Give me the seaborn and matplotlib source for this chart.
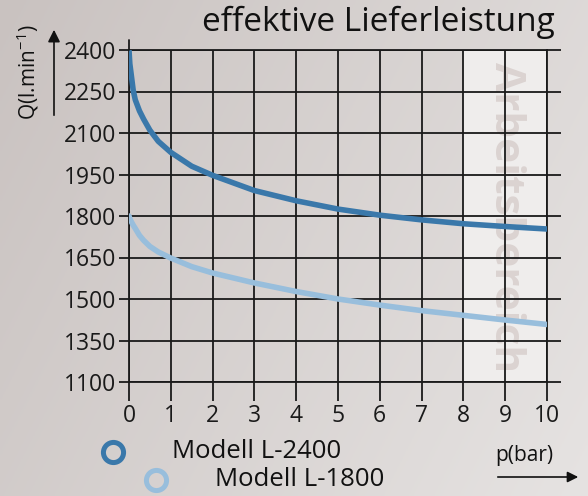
import numpy as np
import pandas as pd
import seaborn as sns
import matplotlib.pyplot as plt
from matplotlib.patches import FancyArrowPatch

# data
p_bar = [0, 0.02, 0.05, 0.1, 0.15, 0.25, 0.35, 0.5, 0.7, 1, 1.5, 2, 3, 4, 5, 6, 7, 8, 9, 10]
flow_2400 = [2400, 2350, 2315, 2255, 2220, 2180, 2150, 2110, 2070, 2030, 1980, 1947, 1892,
             1855, 1825, 1803, 1786, 1772, 1762, 1753]
flow_1800 = [1800, 1790, 1781, 1767, 1755, 1730, 1712, 1690, 1670, 1648, 1617, 1594, 1558,
             1527, 1500, 1478, 1458, 1441, 1424, 1408]
series_names = ["Modell L-2400", "Modell L-1800"]
y_ticks = [2400, 2250, 2100, 1950, 1800, 1650, 1500, 1350, 1200]
y_tick_labels = ["2400", "2250", "2100", "1950", "1800", "1650", "1500", "1350", "1100"]
x_ticks = list(range(0, 11))

dark_blue = "#3a78aa"
light_blue = "#98bedc"

df = pd.DataFrame({
    "p": p_bar * 2,
    "Q": flow_2400 + flow_1800,
    "modell": [series_names[0]] * len(p_bar) + [series_names[1]] * len(p_bar),
})

sns.set_style("ticks")
plt.rcParams["font.family"] = ["Open Sans", "DejaVu Sans"]

W, H = 588, 496
fig = plt.figure(figsize=(W / 100, H / 100), dpi=100)

# background gradient
bg = fig.add_axes([0, 0, 1, 1], zorder=-10)
yy, xx = np.mgrid[0:1:200j, 0:1:200j]
t = (xx * 0.7 + yy * 0.3)
c0 = np.array([0xc9, 0xc2, 0xc0]) / 255
c1 = np.array([0xe6, 0xe3, 0xe2]) / 255
img = c0[None, None, :] * (1 - t[..., None]) + c1[None, None, :] * t[..., None]
bg.imshow(img, aspect="auto", extent=[0, 1, 0, 1], origin="upper")
bg.axis("off")

ax = fig.add_axes([129 / W, (H - 382) / H, (547 - 129) / W, (382 - 50) / H])
ax.set_facecolor("none")

ax.axvspan(8, 10, color="#efedec", zorder=0, lw=0)
ax.text(9.0, 1795, "Arbeitsbereich", rotation=-90, ha="center", va="center",
        fontsize=30.5, fontweight="bold", color="#dbd3d1", zorder=1)

for x in x_ticks:
    ax.axvline(x, color="#1a1a1a", lw=1.3, zorder=2)
for y in y_ticks:
    ax.axhline(y, color="#1a1a1a", lw=1.3, zorder=2)

sns.lineplot(data=df, x="p", y="Q", hue="modell", palette=[dark_blue, light_blue],
             lw=4, ax=ax, legend=False, zorder=3)

ax.set_xlim(0, 10)
ax.set_ylim(1200, 2400)
ax.set_xticks(x_ticks)
ax.set_yticks(y_ticks)
ax.set_yticklabels(y_tick_labels)
ax.set_xlabel("")
ax.set_ylabel("")
ax.tick_params(axis="both", labelsize=16.5, colors="#1a1a1a", width=1.3)
ax.tick_params(axis="y", length=7, pad=2, right=True)
ax.tick_params(axis="x", length=14, pad=2)
for side in ["left", "bottom", "right", "top"]:
    ax.spines[side].set_color("#1a1a1a")
    ax.spines[side].set_linewidth(1.3)
for tl in ax.yaxis.get_ticklines()[1::2]:
    tl.set_markersize(10)

# left axis line runs a little above the plot
fig.add_artist(plt.Line2D([129 / W, 129 / W], [1 - 50 / H, 1 - 40 / H],
                          color="#1a1a1a", lw=1.3, transform=fig.transFigure))

# title and axis labels
fig.text(555 / W, 1 - 22 / H, "effektive Lieferleistung", ha="right", va="center",
         fontsize=24, color="#111111")
fig.text(28 / W, 1 - 72 / H, "Q(l.min$^{\\mathregular{-1}}$)", rotation=90,
         ha="center", va="center", fontsize=15, color="#111111")
fig.add_artist(FancyArrowPatch((54 / W, 1 - 118 / H), (54 / W, 1 - 27 / H),
                               transform=fig.transFigure, arrowstyle="-|>",
                               mutation_scale=18, color="#111111", lw=1.2))
fig.text(524 / W, 1 - 456 / H, "p(bar)", ha="center", va="center",
         fontsize=15, color="#111111")
fig.add_artist(FancyArrowPatch((495 / W, 1 - 477 / H), (581 / W, 1 - 477 / H),
                               transform=fig.transFigure, arrowstyle="-|>",
                               mutation_scale=16, color="#111111", lw=1.2))

# legend
legend_pos = [(113, 452), (156, 480)]
for (lx, ly), name, col in zip(legend_pos, series_names, [dark_blue, light_blue]):
    fig.add_artist(plt.Line2D([lx / W], [1 - ly / H], marker="o", markersize=14.5,
                              markerfacecolor="none", markeredgecolor=col,
                              markeredgewidth=3.6, transform=fig.transFigure))
    fig.text((lx + 59) / W, 1 - ly / H, name, ha="left", va="center",
             fontsize=18.5, color="#111111")

fig.savefig("out.png", dpi=100)
